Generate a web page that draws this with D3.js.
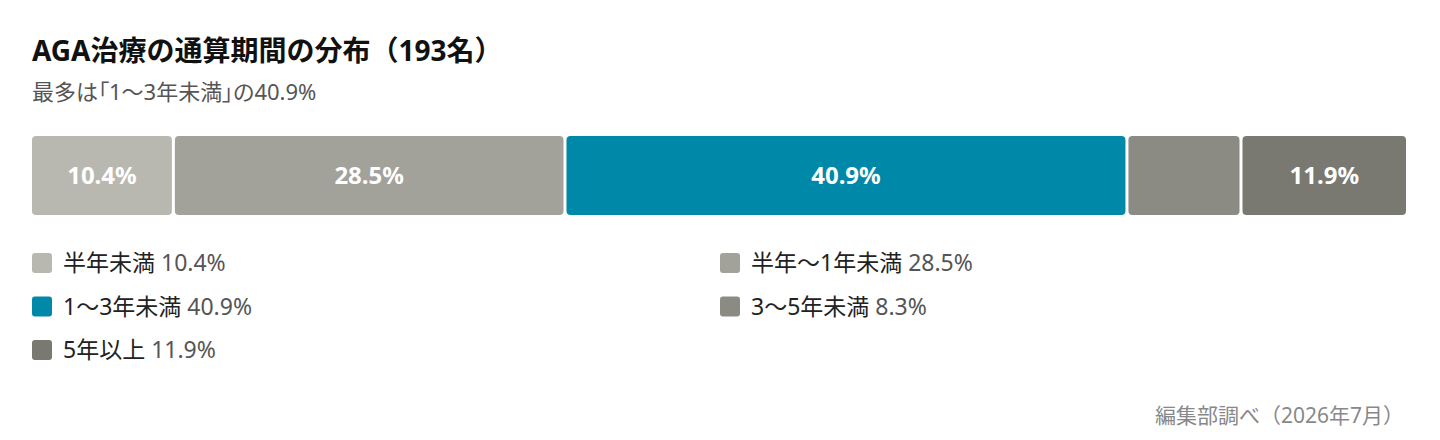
<!DOCTYPE html>
<html>
<head>
<meta charset="utf-8">
<script src="https://cdn.jsdelivr.net/npm/d3@7"></script>
<style>
  body { margin: 0; background: #fff; }
  svg { display: block; font-family: "Noto Sans", "Noto Sans CJK JP", sans-serif; }
  .palt { font-feature-settings: "palt" 1; }
</style>
</head>
<body>
<svg id="chart" width="1440" height="440"></svg>
<script>
// data
var categories = ['半年未満', '半年〜1年未満', '1〜3年未満', '3〜5年未満', '5年以上'];
var shares = [10.4, 28.5, 40.9, 8.3, 11.9];
var colors = ['#b9b8b0', '#a2a19a', '#0088a8', '#8c8b83', '#7a7971'];
var showLabel = [true, true, true, false, true];

var svg = d3.select('#chart');
var margin = {left: 32, right: 34};
var width = 1440;

svg.append('text')
    .attr('x', 32).attr('y', 61)
    .attr('font-size', 28).attr('font-weight', 700)
    .attr('fill', '#111')
    .text('AGA治療の通算期間の分布（193名）');

svg.append('text')
    .attr('class', 'palt')
    .attr('x', 32).attr('y', 100)
    .attr('font-size', 22)
    .attr('fill', '#555')
    .text('最多は「1〜3年未満」の40.9%');

// stacked bar
var total = d3.sum(shares);
var x = d3.scaleLinear()
    .domain([0, total])
    .range([margin.left, width - margin.right]);

var starts = [];
var acc = 0;
shares.forEach(function (v) { starts.push(acc); acc += v; });

var gap = 3;
var barTop = 136, barH = 79;

function segWidth(i) {
    var w = x(starts[i] + shares[i]) - x(starts[i]);
    return i < shares.length - 1 ? w - gap : w;
}

var seg = svg.append('g').selectAll('g.seg')
    .data(shares)
  .enter()
  .append('g')
    .attr('class', 'seg');

seg.append('rect')
    .attr('x', function (d, i) { return x(starts[i]); })
    .attr('y', barTop)
    .attr('width', function (d, i) { return segWidth(i); })
    .attr('height', barH)
    .attr('rx', 4)
    .attr('fill', function (d, i) { return colors[i]; });

seg.append('text')
    .attr('x', function (d, i) { return x(starts[i]) + segWidth(i) / 2; })
    .attr('y', barTop + barH / 2)
    .attr('dy', '0.36em')
    .attr('text-anchor', 'middle')
    .attr('font-size', 24).attr('font-weight', 700)
    .attr('fill', '#fff')
    .text(function (d, i) { return showLabel[i] ? d.toFixed(1) + '%' : ''; });

// legend, two columns
var legend = svg.append('g').selectAll('g.item')
    .data(categories)
  .enter()
  .append('g')
    .attr('class', 'item')
    .attr('transform', function (d, i) {
        var col = i % 2, row = Math.floor(i / 2);
        return 'translate(' + (32 + col * 688) + ',' + (263 + row * 43.5) + ')';
    });

legend.append('rect')
    .attr('x', 0).attr('y', -10)
    .attr('width', 20).attr('height', 20)
    .attr('rx', 3)
    .attr('fill', function (d, i) { return colors[i]; });

var lt = legend.append('text')
    .attr('x', 31).attr('dy', '0.36em')
    .attr('font-size', 23);
lt.append('tspan').attr('fill', '#222').text(function (d) { return d + ' '; });
lt.append('tspan').attr('fill', '#555').text(function (d, i) { return shares[i].toFixed(1) + '%'; });

svg.append('text')
    .attr('x', 1404).attr('y', 423)
    .attr('text-anchor', 'end')
    .attr('font-size', 21)
    .attr('fill', '#888')
    .text('編集部調べ（2026年7月）');
</script>
</body>
</html>
